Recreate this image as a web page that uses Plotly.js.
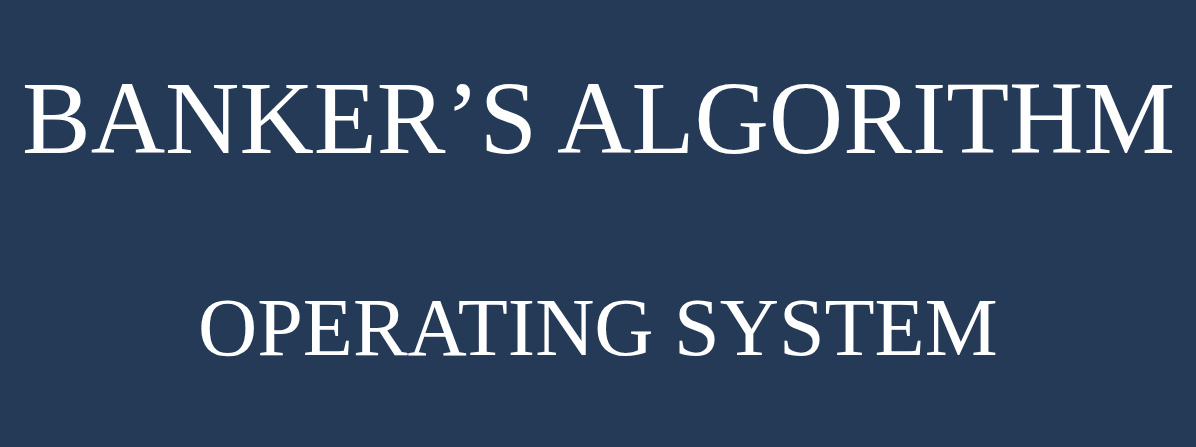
<!DOCTYPE html>
<html>
<head>
<meta charset="utf-8">
<script src="https://cdn.plot.ly/plotly-3.0.1.min.js"></script>
<style>
  html, body { margin: 0; padding: 0; background: #253a56; }
  #slide { width: 1196px; height: 447px; }
</style>
</head>
<body>
<div id="slide"></div>
<script>
// text lines and where they sit (paper fraction from bottom)
const lines = ["BANKER\u2019S ALGORITHM", "OPERATING SYSTEM"];
const lineY = [0.735, 0.268];
const lineSize = [103, 82];

const bg = "#253a56";

const annotations = lines.map((t, i) => ({
  text: t,
  x: 0.5,
  y: lineY[i],
  xref: "paper",
  yref: "paper",
  xanchor: "center",
  yanchor: "middle",
  showarrow: false,
  font: { family: "Liberation Serif, DejaVu Serif, serif", size: lineSize[i], color: "#ffffff" },
}));

const layout = {
  width: 1196,
  height: 447,
  margin: { l: 0, r: 0, t: 0, b: 0 },
  paper_bgcolor: bg,
  plot_bgcolor: bg,
  xaxis: { visible: false, range: [0, 1] },
  yaxis: { visible: false, range: [0, 1] },
  showlegend: false,
  annotations: annotations,
};

Plotly.newPlot("slide", [], layout, { staticPlot: true });
</script>
</body>
</html>
